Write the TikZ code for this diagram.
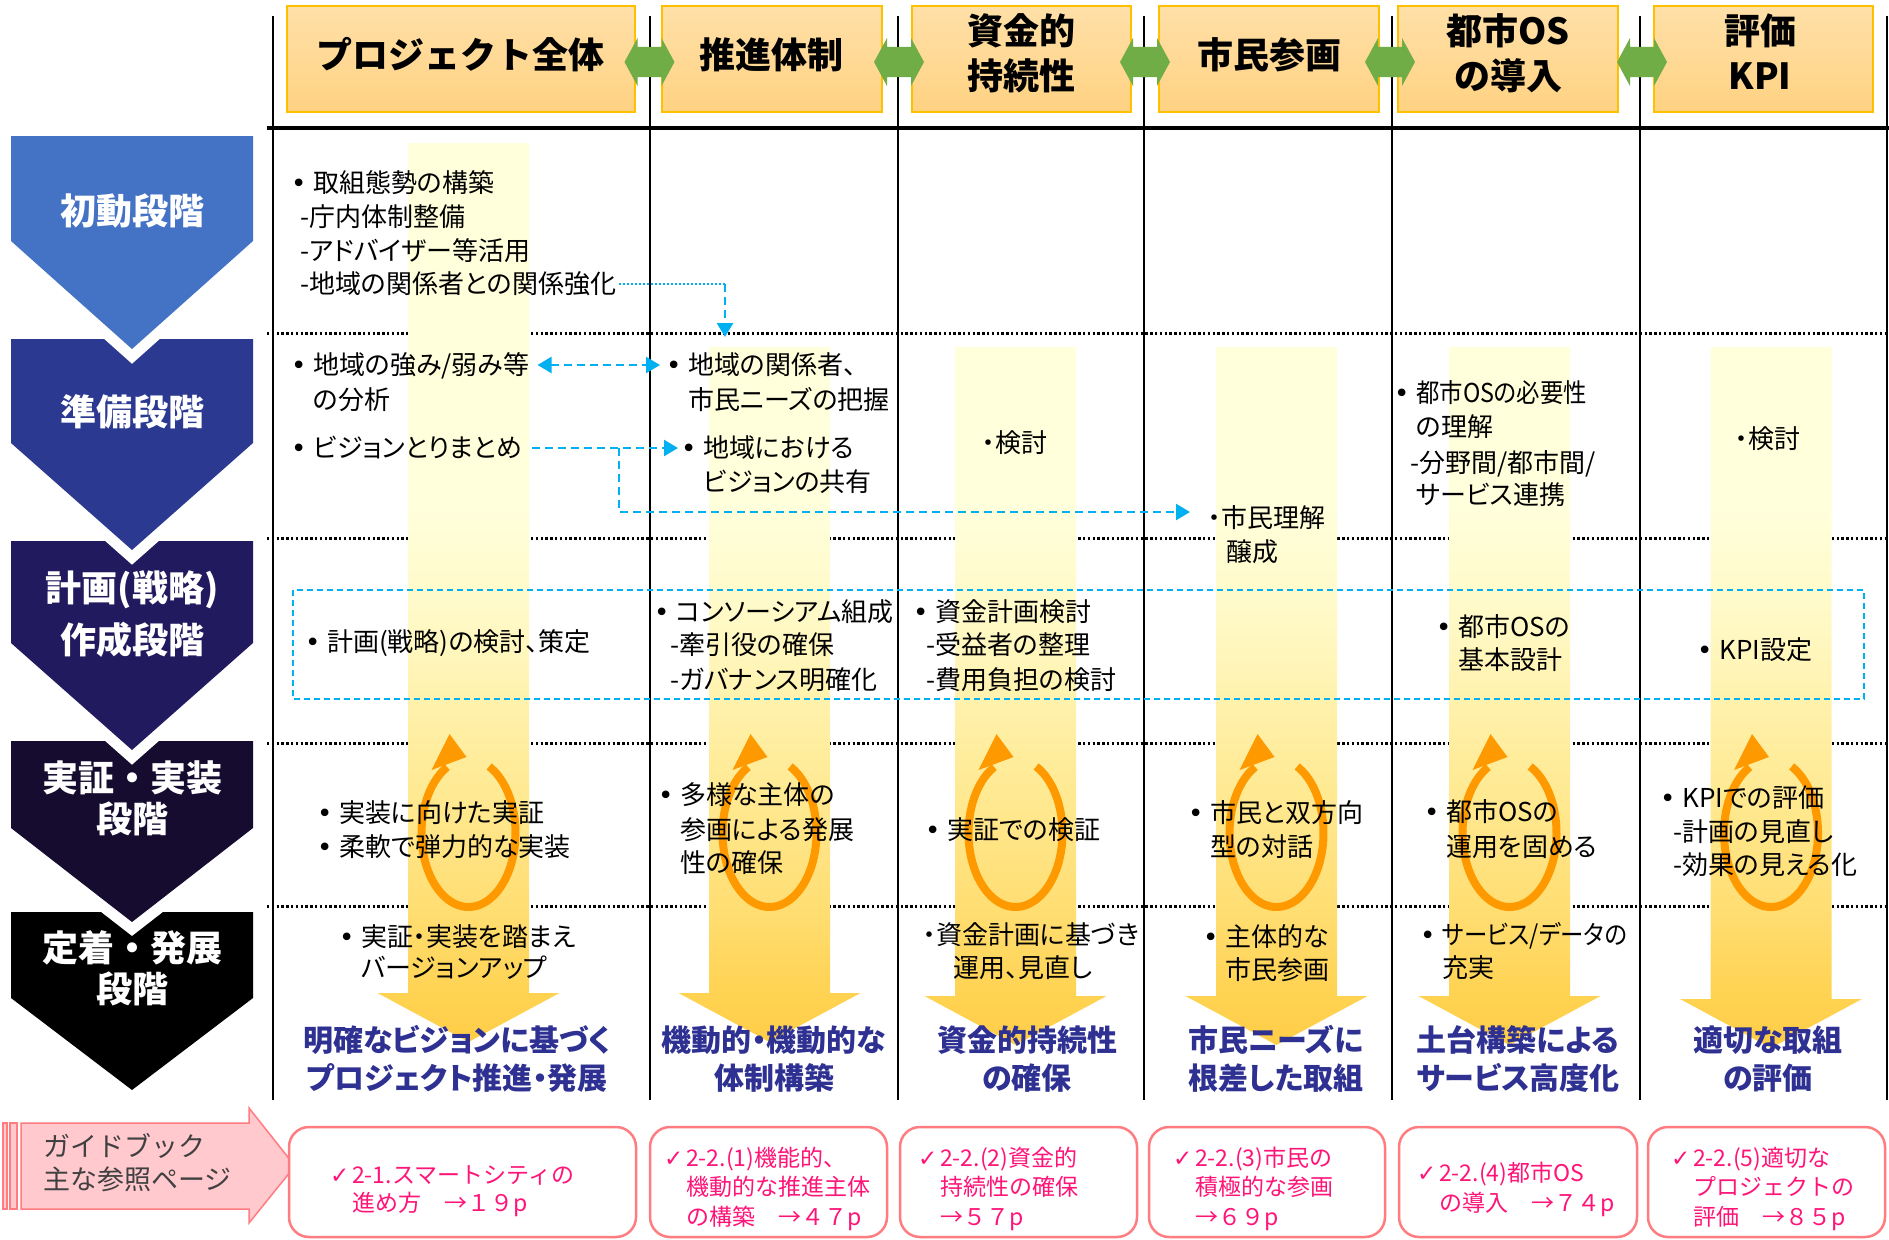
\documentclass[tikz,border=0pt]{standalone}
\usepackage{graphicx}
\usepackage{fontspec}
\setmainfont{Noto Sans CJK JP}
\newfontfamily\pfont{Noto Sans CJK JP}[RawFeature=+palt]
\newfontfamily\dejavu{DejaVu Sans}
\usetikzlibrary{arrows.meta}
\definecolor{stA}{HTML}{4472C4}
\definecolor{stB}{HTML}{2B3991}
\definecolor{stC}{HTML}{221A5E}
\definecolor{stD}{HTML}{160C30}
\definecolor{stE}{HTML}{000000}
\definecolor{hdtop}{HTML}{FFE0A8}
\definecolor{hdbot}{HTML}{FFD282}
\definecolor{hdbor}{HTML}{FFC000}
\definecolor{grn}{HTML}{70AD47}
\definecolor{bl}{HTML}{00B0F0}
\definecolor{ringc}{HTML}{FF9900}
\definecolor{resblue}{HTML}{2E3192}
\definecolor{pinkfill}{HTML}{FFC9CE}
\definecolor{pinkline}{HTML}{FF7C80}
\definecolor{pinktext}{HTML}{FF1478}
\definecolor{gtext}{HTML}{404040}
\definecolor{yb0}{RGB}{255,204,68}
\definecolor{yb1}{RGB}{255,210,80}
\definecolor{yb2}{RGB}{255,222,115}
\definecolor{yb3}{RGB}{255,238,160}
\definecolor{yb4}{RGB}{255,249,198}
\definecolor{yb5}{RGB}{255,255,220}
\pgfdeclareverticalshading{ybar}{100bp}{color(0bp)=(yb0); color(25bp)=(yb0); color(28.3bp)=(yb1); color(33.4bp)=(yb2); color(42.3bp)=(yb3); color(49bp)=(yb4); color(55.5bp)=(yb5); color(75bp)=(yb5); color(100bp)=(yb5)}
\newcommand\mybul{\makebox[22pt][l]{\dejavu •}}
\newcommand\mychk{\makebox[22pt][l]{\dejavu ✓}}
\newcommand\sq[1]{\scalebox{0.9}[1]{#1}}
\newcommand\ybarshape[3]{%
  \begin{scope}
    \clip ({#1-60.5},#2) -- ({#1+60.5},#2) -- ({#1+60.5},#3) -- ({#1+91},#3) -- (#1,{#3+49}) -- ({#1-91},#3) -- ({#1-60.5},#3) -- cycle;
    \shade[shading=ybar] ({#1-95},143) rectangle ({#1+95},1060);
  \end{scope}}
\newcommand\ringarrow[1]{%
  \draw[ringst] plot[domain=-64:243, samples=90, smooth] ({#1+47*cos(\x)}, {833+74*sin(\x)});
  \fill[ringc] ({#1-19},{833-99}) -- ({#1-37},{833-63}) -- ({#1-2},{833-76}) -- cycle;}
\newcommand\chev[4]{%
  \draw[white, line width=22pt, line join=miter] (11,#1) -- (253,#1) -- (253,#2) -- (132,#3) -- (11,#2) -- cycle;
  \fill[#4] (11,#1) -- (253,#1) -- (253,#2) -- (132,#3) -- (11,#2) -- cycle;}
\newcommand\grnarrow[1]{%
  \fill[grn] ({#1-25},62) -- ({#1-12},38) -- ({#1-12},47) -- ({#1+12},47) -- ({#1+12},38) -- ({#1+25},62) -- ({#1+12},86) -- ({#1+12},77) -- ({#1-12},77) -- ({#1-12},86) -- cycle;}
\begin{document}
\begin{tikzpicture}[x=1pt,y=-1pt,
  txt/.style={font=\pfont\fontsize{26}{31}\selectfont, inner sep=0pt, anchor=west, text height=22pt, text depth=4pt},
  hd/.style={font=\bfseries\fontsize{36}{40}\selectfont, inner sep=0pt, text height=31pt, text depth=5pt},
  stg/.style={hd, text=white},
  res/.style={font=\pfont\bfseries\fontsize{30}{34}\selectfont, text=resblue, inner sep=0pt, text height=26pt, text depth=4pt},
  pk/.style={font=\fontsize{23}{27}\selectfont, text=pinktext, inner sep=0pt, anchor=west, text height=20pt, text depth=3pt},
  gd/.style={font=\fontsize{27}{32}\selectfont, text=gtext, inner sep=0pt, anchor=west, text height=23pt, text depth=4pt},
  vline/.style={line width=2.5pt},
  rowline/.style={line width=3pt, dash pattern=on 2.4pt off 2.4pt},
  hdbox/.style={top color=hdtop, bottom color=hdbot, draw=hdbor, line width=2pt},
  bdash/.style={draw=bl, line width=2.5pt, dash pattern=on 8pt off 5pt},
  bdot/.style={draw=bl, line width=2.5pt, dash pattern=on 2pt off 2pt},
  btip/.style={-{Triangle[length=14pt,width=16pt]}},
  bboth/.style={{Triangle[length=14pt,width=16pt]}-{Triangle[length=14pt,width=16pt]}},
  ringst/.style={draw=ringc, line width=8pt},
  pinkbox/.style={draw=pinkline, line width=2.5pt, rounded corners=20pt, fill=white},
  pkarrow/.style={draw=pinkline, line width=1.5pt, fill=pinkfill}
]
\useasboundingbox (0,0) rectangle (1889,1239);
\fill[white] (0,0) rectangle (1889,1239);

% grid lines
\foreach \xx in {273,650,898,1144,1392,1640,1887} \draw[vline] (\xx,16) -- (\xx,1100);
\draw[line width=3.5pt] (267,128) -- (1889,128);
\foreach \yy in {333,538,743,906} \draw[rowline] (267,\yy) -- (1889,\yy);

% yellow column arrows
\ybarshape{468.5}{143}{993}
\ybarshape{769.5}{347}{993}
\ybarshape{1015.5}{347}{996}
\ybarshape{1276.5}{347}{996}
\ybarshape{1509.5}{347}{996}
\ybarshape{1771}{347}{999}

% orange cycle arrows
\ringarrow{468.5}
\ringarrow{769.5}
\ringarrow{1015.5}
\ringarrow{1276.5}
\ringarrow{1509.5}
\ringarrow{1771}

% header boxes
\shade[hdbox] (287,6) rectangle (635,112);
\shade[hdbox] (662,6) rectangle (882,112);
\shade[hdbox] (912,6) rectangle (1131,112);
\shade[hdbox] (1159,6) rectangle (1379,112);
\shade[hdbox] (1398,6) rectangle (1618,112);
\shade[hdbox] (1654,6) rectangle (1873,112);
\grnarrow{649.5}
\grnarrow{899}
\grnarrow{1145}
\grnarrow{1390}
\grnarrow{1642}

\node[hd] (h1) at (460,55) {プロジェクト全体};
\node[hd] (h2) at (771,55) {推進体制};
\node[hd] (h3a) at (1021,32) {資金的};
\node[hd] (h3b) at (1021,76) {持続性};
\node[hd] (h4) at (1269,55) {市民参画};
\node[hd] (h5a) at (1508,32) {都市OS};
\node[hd] (h5b) at (1508,76) {の導入};
\node[hd] (h6a) at (1760,32) {評価};
\node[hd] (h6b) at (1760,76) {KPI};

% stage chevrons
\chev{912}{998}{1090}{stE}
\chev{741}{828}{922}{stD}
\chev{541}{643}{750}{stC}
\chev{339}{443}{550}{stB}
\chev{136}{241}{349}{stA}
\node[stg] (s1) at (132,211) {初動段階};
\node[stg] (s2) at (132,412) {準備段階};
\node[stg] (s3a) at (132,588) {計画(戦略)};
\node[stg] (s3b) at (132,640) {作成段階};
\node[stg] (s4a) at (132,778) {実証・実装};
\node[stg] (s4b) at (132,819) {段階};
\node[stg] (s5a) at (132,948) {定着・発展};
\node[stg] (s5b) at (132,989) {段階};

% planning-row dashed frame
\draw[draw=bl, line width=2pt, dash pattern=on 6pt off 4pt] (293,590) rectangle (1864,699);

% row 1
\node[txt] (t11) at (291,183) {\mybul 取組態勢の構築};
\node[txt] (t12) at (300,217) {-庁内体制整備};
\node[txt] (t13) at (300,251) {-アドバイザー等活用};
\node[txt] (t14) at (300,284) {-地域の関係者との関係強化};

% row 2
\node[txt] (r2a) at (291,365) {\mybul 地域の強み/弱み等};
\node[txt] (r2a2) at (313,400) {の分析};
\node[txt] (r2b) at (291,448) {\mybul ビジョンとりまとめ};
\node[txt] (r2c) at (666,365) {\mybul 地域の関係者、};
\node[txt] (r2c2) at (688,400) {市民ニーズの把握};
\node[txt] (r2d) at (681,448) {\mybul 地域における};
\node[txt] (r2d2) at (703,482) {ビジョンの共有};
\node[txt] (r2f) at (982,443) {・検討};
\node[txt] (r2e) at (1208,518) {・市民理解};
\node[txt] (r2e2) at (1226,552) {醸成};
\node[txt] (r2g) at (1394,393) {\mybul \sq{都市OSの必要性}};
\node[txt] (r2g2) at (1416,427) {の理解};
\node[txt] (r2g3) at (1410,463) {-分野間/都市間/};
\node[txt] (r2g4) at (1416,495) {サービス連携};
\node[txt] (r2h) at (1735,439) {・検討};

% row 3
\node[txt] (r3a) at (305,642) {\mybul 計画(戦略)の検討、策定};
\node[txt] (r3b) at (654,612) {\mybul コンソーシアム組成};
\node[txt] (r3b2) at (670,645) {-牽引役の確保};
\node[txt] (r3b3) at (670,680) {-ガバナンス明確化};
\node[txt] (r3c) at (913,612) {\mybul 資金計画検討};
\node[txt] (r3c2) at (926,645) {-受益者の整理};
\node[txt] (r3c3) at (926,680) {-費用負担の検討};
\node[txt] (r3d) at (1436,627) {\mybul 都市OSの};
\node[txt] (r3d2) at (1458,660) {基本設計};
\node[txt] (r3e) at (1697,650) {\mybul KPI設定};

% row 4
\node[txt] (r4a) at (317,813) {\mybul 実装に向けた実証};
\node[txt] (r4a2) at (317,847) {\mybul 柔軟で弾力的な実装};
\node[txt] (r4b) at (658,795) {\mybul 多様な主体の};
\node[txt] (r4b2) at (680,830) {参画による発展};
\node[txt] (r4b3) at (680,863) {性の確保};
\node[txt] (r4c) at (925,830) {\mybul 実証での検証};
\node[txt] (r4d) at (1188,813) {\mybul 市民と双方向};
\node[txt] (r4d2) at (1210,847) {型の対話};
\node[txt] (r4e) at (1424,812) {\mybul 都市OSの};
\node[txt] (r4e2) at (1446,847) {運用を固める};
\node[txt] (r4f) at (1660,798) {\mybul KPIでの評価};
\node[txt] (r4f2) at (1673,832) {-計画の見直し};
\node[txt] (r4f3) at (1673,865) {-効果の見える化};

% row 5
\node[txt] (r5a) at (339,937) {\mybul 実証・実装を踏まえ};
\node[txt] (r5a2) at (361,968) {バージョンアップ};
\node[txt] (r5c) at (923,935) {・資金計画に基づき};
\node[txt] (r5c2) at (953,968) {運用、見直し};
\node[txt] (r5d) at (1203,937) {\mybul 主体的な};
\node[txt] (r5d2) at (1225,970) {市民参画};
\node[txt] (r5e) at (1420,935) {\mybul \sq{サービス/データの}};
\node[txt] (r5e2) at (1442,968) {充実};

% blue connectors
\coordinate (k1) at (725,284);
\coordinate (k2) at (725,337);
\draw[bdot] ([xshift=3pt]t14.east) -- (k1);
\draw[bdash, btip] (k1) -- (k2);
\draw[bdash, bboth] ([xshift=8pt]r2a.east) -- ([xshift=-6pt]r2c.west);
\draw[bdash, btip] ([xshift=10pt]r2b.east) -- ([xshift=-3pt]r2d.west);
\coordinate (k3) at (619,448);
\coordinate (k4) at (1190,512);
\draw[bdash, btip] (k3) |- (k4);

% results
\node[res] (q1a) at (457,1040) {明確なビジョンに基づく};
\node[res] (q1b) at (457,1078) {プロジェクト推進・発展};
\node[res] (q2a) at (774,1040) {機動的・機動的な};
\node[res] (q2b) at (774,1078) {体制構築};
\node[res] (q3a) at (1027,1040) {資金的持続性};
\node[res] (q3b) at (1027,1078) {の確保};
\node[res] (q4a) at (1276,1040) {市民ニーズに};
\node[res] (q4b) at (1276,1078) {根差した取組};
\node[res] (q5a) at (1518,1040) {土台構築による};
\node[res] (q5b) at (1518,1078) {サービス高度化};
\node[res] (q6a) at (1768,1040) {適切な取組};
\node[res] (q6b) at (1768,1078) {の評価};

% guidebook arrow
\draw[pkarrow] (3,1123) rectangle (7,1209);
\draw[pkarrow] (10,1123) rectangle (17,1209);
\draw[pkarrow] (21,1123) -- (249,1123) -- (249,1108) -- (295,1166) -- (249,1223) -- (249,1209) -- (21,1209) -- cycle;
\node[gd] (g1) at (43,1147) {ガイドブック};
\node[gd] (g2) at (43,1180) {主な参照ページ};

% reference boxes
\draw[pinkbox] (289,1127) rectangle (636,1237);
\draw[pinkbox] (650,1127) rectangle (887,1237);
\draw[pinkbox] (900,1127) rectangle (1137,1237);
\draw[pinkbox] (1149,1127) rectangle (1385,1237);
\draw[pinkbox] (1399,1127) rectangle (1637,1237);
\draw[pinkbox] (1648,1127) rectangle (1885,1237);

\node[pk] (p1a) at (330,1175) {\mychk 2-1.スマートシティの};
\node[pk] (p1b) at (352,1203) {進め方　→１９p};
\node[pk] (p2a) at (664,1158) {\mychk 2-2.(1)機能的、};
\node[pk] (p2b) at (686,1187) {機動的な推進主体};
\node[pk] (p2c) at (686,1217) {の構築　→４７p};
\node[pk] (p3a) at (918,1158) {\mychk 2-2.(2)資金的};
\node[pk] (p3b) at (940,1187) {持続性の確保};
\node[pk] (p3c) at (940,1217) {→５７p};
\node[pk] (p4a) at (1173,1158) {\mychk 2-2.(3)市民の};
\node[pk] (p4b) at (1195,1187) {積極的な参画};
\node[pk] (p4c) at (1195,1217) {→６９p};
\node[pk] (p5a) at (1417,1173) {\mychk 2-2.(4)都市OS};
\node[pk] (p5b) at (1439,1203) {の導入　→７４p};
\node[pk] (p6a) at (1671,1158) {\mychk 2-2.(5)適切な};
\node[pk] (p6b) at (1693,1187) {プロジェクトの};
\node[pk] (p6c) at (1693,1217) {評価　→８５p};
\end{tikzpicture}
\end{document}
